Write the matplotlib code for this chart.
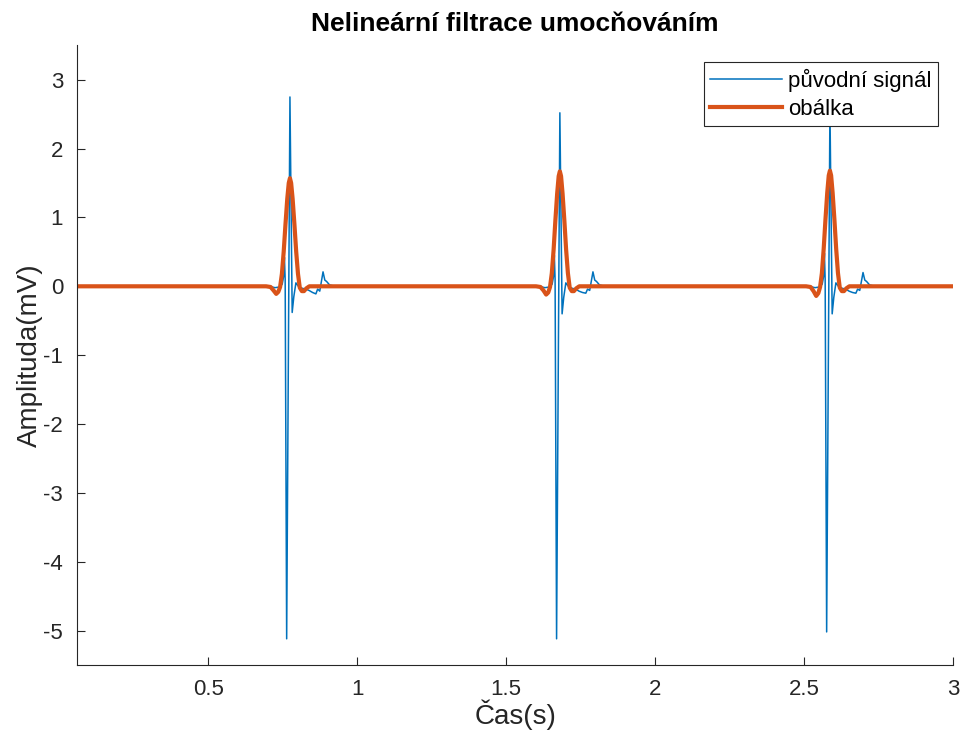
import numpy as np
import matplotlib
matplotlib.use("Agg")
import matplotlib.pyplot as plt

plt.rcParams["font.family"] = ["Liberation Sans", "DejaVu Sans"]
plt.rcParams["axes.unicode_minus"] = False

# R-peak times of the three beats (s)
beat_times = [0.7745, 1.680, 2.586]
t_start, t_end = 0.06, 3.0

# raw ECG around each R peak: offsets (s) and amplitudes (mV)
sig_dt = [-0.07, -0.05, -0.035, -0.026, -0.021, -0.0185, -0.016, -0.011,
          0.0, 0.0075, 0.013, 0.020, 0.030, 0.042, 0.053, 0.064, 0.076,
          0.087, 0.093, 0.100, 0.111, 0.117, 0.123, 0.133, 0.15]
sig_beat1 = [0.0, -0.02, -0.01, 0.03, 0.15, 0.42, 0.10, -5.12,
             2.75, -0.38, -0.15, 0.05, -0.01, -0.03, -0.04, -0.06, -0.09,
             -0.11, -0.04, -0.07, 0.21, 0.09, 0.07, 0.02, 0.0]
sig_beat2 = [0.0, -0.02, -0.01, 0.03, 0.15, 0.45, 0.10, -5.12,
             2.52, -0.40, -0.16, 0.05, -0.01, -0.03, -0.04, -0.07, -0.09,
             -0.10, -0.04, -0.06, 0.21, 0.09, 0.07, 0.02, 0.0]
sig_beat3 = [0.0, -0.02, -0.01, 0.03, 0.15, 0.48, 0.10, -5.02,
             2.60, -0.40, -0.16, 0.05, -0.01, -0.03, -0.04, -0.07, -0.09,
             -0.10, -0.04, -0.06, 0.20, 0.09, 0.07, 0.02, 0.0]

# envelope after squaring + smoothing
env_dt = [-0.08, -0.065, -0.055, -0.046, -0.039, -0.033, -0.027, -0.021,
          -0.015, -0.009, -0.004, 0.0, 0.004, 0.009, 0.015, 0.021, 0.027,
          0.033, 0.040, 0.047, 0.055, 0.065, 0.08]
env_beat1 = [0.0, -0.01, -0.06, -0.11, -0.08, -0.01, 0.18, 0.50,
             0.90, 1.27, 1.50, 1.57, 1.50, 1.27, 0.90, 0.50, 0.18,
             -0.02, -0.07, -0.07, -0.03, 0.0, 0.0]
env_beat2 = [0.0, -0.01, -0.06, -0.12, -0.09, -0.01, 0.19, 0.53,
             0.96, 1.35, 1.60, 1.67, 1.60, 1.35, 0.96, 0.53, 0.19,
             -0.02, -0.07, -0.07, -0.03, 0.0, 0.0]
env_beat3 = [0.0, -0.01, -0.07, -0.14, -0.10, -0.01, 0.19, 0.54,
             0.97, 1.36, 1.61, 1.68, 1.61, 1.36, 0.97, 0.54, 0.19,
             -0.02, -0.07, -0.07, -0.03, 0.0, 0.0]


def build(dt, beats):
    t = [t_start]
    v = [0.0]
    for tb, vals in zip(beat_times, beats):
        t.extend(tb + np.asarray(dt))
        v.extend(vals)
    t.append(t_end)
    v.append(0.0)
    return np.array(t), np.array(v)


t_sig, sig = build(sig_dt, [sig_beat1, sig_beat2, sig_beat3])
t_env, env = build(env_dt, [env_beat1, env_beat2, env_beat3])

fig = plt.figure(figsize=(9.62, 7.43), dpi=100)
ax = fig.add_axes([0.080, 0.105, 0.911, 0.834])

ax.plot(t_sig, sig, color="#0072BD", lw=1.1, label="původní signál")
ax.plot(t_env, env, color="#D95319", lw=3.0, label="obálka")

ax.set_xlim(t_start, t_end)
ax.set_ylim(-5.5, 3.5)
ax.set_xticks([0.5, 1, 1.5, 2, 2.5, 3])
ax.set_xticklabels(["0.5", "1", "1.5", "2", "2.5", "3"])
ax.set_yticks(range(-5, 4))

for s in ["top", "right"]:
    ax.spines[s].set_visible(False)
for s in ["left", "bottom"]:
    ax.spines[s].set_color("#262626")
    ax.spines[s].set_linewidth(0.8)
ax.tick_params(direction="in", length=6, width=0.8, color="#262626",
               labelcolor="#262626", labelsize=16, pad=10)

ax.set_xlabel("Čas(s)", fontsize=20, color="#262626", labelpad=0)
ax.set_ylabel("Amplituda(mV)", fontsize=20, color="#262626", labelpad=0)
ax.set_title("Nelineární filtrace umocňováním", fontsize=19,
             fontweight="bold", pad=10)

leg = ax.legend(loc="upper right", fontsize=16, frameon=True, fancybox=False,
                edgecolor="#262626", framealpha=1, handlelength=3.2,
                borderpad=0.3, labelspacing=0.3, handletextpad=0.3,
                borderaxespad=0, bbox_to_anchor=(0.983, 0.973))
leg.get_frame().set_linewidth(0.8)

fig.savefig("out.png", dpi=100, facecolor="white")
